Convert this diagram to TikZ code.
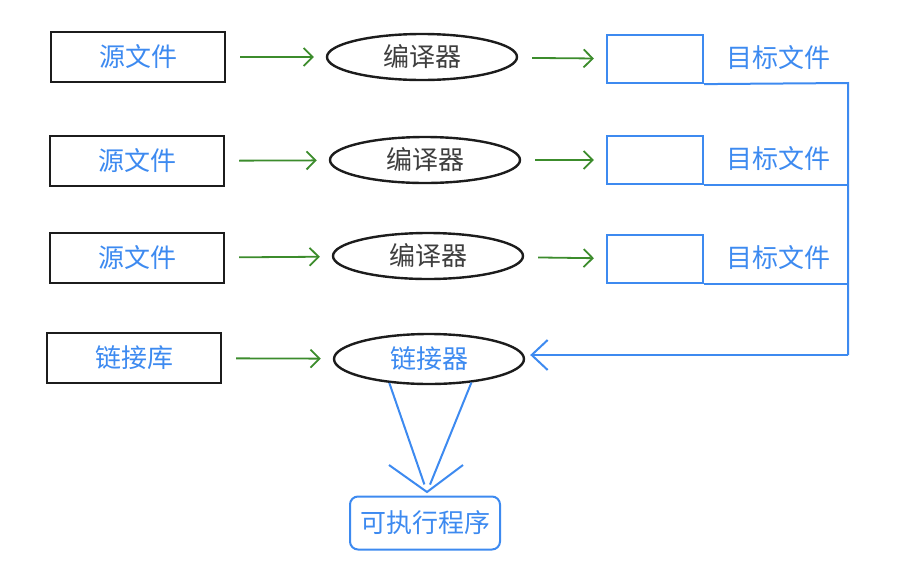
\documentclass[tikz,border=0pt]{standalone}
\usepackage{fontspec}
\newfontfamily\cjk{Noto Sans CJK SC}
\usetikzlibrary{shapes.geometric, positioning, arrows.meta}
\usepackage{xcolor}
\definecolor{LinkBlue}{HTML}{3D8AF0}
\definecolor{FlowGreen}{HTML}{3C8C2C}
\definecolor{InkBlack}{HTML}{1C1C1C}

\tikzset{
  srcbox/.style={draw=InkBlack, line width=2.4pt, minimum width=174pt, minimum height=50pt, text=LinkBlue, font=\cjk\fontsize{26}{30}\selectfont},
  toolell/.style={ellipse, draw=InkBlack, line width=2.4pt, minimum width=190pt, minimum height=46pt, inner sep=0pt, font=\cjk\fontsize{26}{30}\selectfont},
  objbox/.style={draw=LinkBlue, line width=2.2pt, minimum width=96pt, minimum height=48pt},
  objlabel/.style={text=LinkBlue, font=\cjk\fontsize{26}{30}\selectfont},
  greenarrow/.style={-{Straight Barb[length=9pt,width=18pt]}, FlowGreen, line width=1.8pt, shorten <=14pt, shorten >=12pt},
  blueline/.style={LinkBlue, line width=2pt}
}

\begin{document}
\begin{tikzpicture}[x=1pt, y=-1pt]
  \useasboundingbox (0,0) rectangle (907,579);

  % Source files
  \node[srcbox] (src1) at (138,57) {源文件};
  \node[srcbox] (src2) at (137,161) {源文件};
  \node[srcbox] (src3) at (137,258) {源文件};
  \node[srcbox] (lib) at (134,358) {链接库};

  % Compilers and linker
  \node[toolell, text=InkBlack!85] (cc1) at (422,57) {编译器};
  \node[toolell, text=InkBlack!85] (cc2) at (425,160) {编译器};
  \node[toolell, text=InkBlack!85] (cc3) at (428,256) {编译器};
  \node[toolell, text=LinkBlue, minimum height=50pt] (ld) at (429,359) {链接器};

  % Object files
  \node[objbox] (obj1) at (655,59) {};
  \node[objbox] (obj2) at (655,160) {};
  \node[objbox] (obj3) at (655,259) {};
  \node[objlabel] (lab1) at (778,58) {目标文件};
  \node[objlabel] (lab2) at (778,159) {目标文件};
  \node[objlabel] (lab3) at (778,258) {目标文件};

  % Executable
  \node[draw=LinkBlue, line width=2pt, rounded corners=8pt, minimum width=150pt, minimum height=53pt, text=LinkBlue, font=\cjk\fontsize{26}{30}\selectfont] (exe) at (425,523) {可执行程序};

  % Green arrows
  \draw[greenarrow] (src1) -- (cc1);
  \draw[greenarrow] (cc1) -- (obj1);
  \draw[greenarrow] (src2) -- (cc2);
  \draw[greenarrow] (cc2) -- (obj2);
  \draw[greenarrow] (src3) -- (cc3);
  \draw[greenarrow] (cc3) -- (obj3);
  \draw[greenarrow] (lib) -- (ld);

  % Collecting line into the linker
  \coordinate (bustop) at (848,83);
  \coordinate (busbot) at (848,355);
  \draw[blueline] (obj1.south east) -- (bustop) -- (busbot);
  \draw[blueline] (obj2.south east) -- (obj2.south east -| bustop);
  \draw[blueline] (obj3.south east) -- (obj3.south east -| bustop);
  \draw[blueline, -{Straight Barb[length=16pt,width=30pt]}, shorten >=5pt] (busbot) -- (busbot -| ld.east);

  % Linker to executable
  \coordinate (exetip) at (427,492);
  \draw[blueline, shorten >=8pt] (ld.211) -- (exetip);
  \draw[blueline, shorten >=8pt] (ld.331) -- (exetip);
  \draw[blueline] (exetip) +(-38,-27) -- (exetip) -- +(36,-27);
\end{tikzpicture}
\end{document}
